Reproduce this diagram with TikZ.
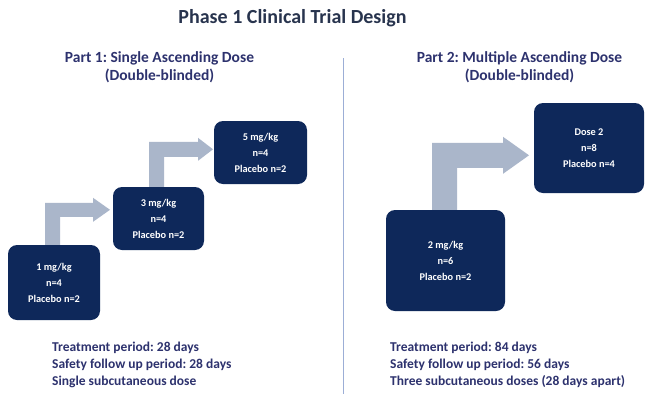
\documentclass[tikz,border=0pt]{standalone}
\usepackage{fontspec}
\setmainfont{Carlito}
\frenchspacing
\definecolor{navy}{HTML}{0E285A}
\definecolor{arrowc}{HTML}{AAB6CA}
\definecolor{titlec}{HTML}{28344E}
\definecolor{headc}{HTML}{2D326E}
\definecolor{linec}{HTML}{9CAED6}
\tikzset{
  dosebox/.style={fill=navy, rounded corners=9pt, inner sep=0pt, align=center,
    text=white, font=\fontsize{10.3}{16}\selectfont\bfseries},
  blockarrow/.style={fill=arrowc},
  header/.style={text=headc, align=center, inner sep=0pt,
    font=\fontsize{15.5}{18.5}\selectfont\bfseries},
  notes/.style={text=headc, align=left, anchor=west, inner sep=0pt,
    font=\fontsize{13.5}{17}\selectfont\bfseries},
}
\begin{document}
\begin{tikzpicture}[x=1pt,y=-1pt]
\useasboundingbox (0,0) rectangle (646,394);
\fill[white] (0,0) rectangle (646,394);

\node[text=titlec, inner sep=0pt, anchor=base, font=\fontsize{20}{24}\selectfont\bfseries]
  (title) at (292.5,23) {Phase 1 Clinical Trial Design};

\node[header] (h1) at (159.5,67) {Part 1: Single Ascending Dose\\(Double-blinded)};
\node[header] (h2) at (519.5,67) {Part 2: Multiple Ascending Dose\\(Double-blinded)};

\coordinate (ltop) at (343,58);
\coordinate (lbot) at (343,394);
\draw[linec, line width=1pt] (ltop) -- (lbot);

\node[dosebox, minimum width=92pt, minimum height=75pt] (b1) at (54,282.5) {1 mg/kg\\n=4\\Placebo n=2};
\node[dosebox, minimum width=91pt, minimum height=63pt] (b2) at (158.5,218.5) {3 mg/kg\\n=4\\Placebo n=2};
\node[dosebox, minimum width=93pt, minimum height=63pt] (b3) at (260.5,152.5) {5 mg/kg\\n=4\\Placebo n=2};
\node[dosebox, minimum width=119pt, minimum height=101pt] (b4) at (445.5,260.5) {2 mg/kg\\n=6\\Placebo n=2};
\node[dosebox, minimum width=110pt, minimum height=90pt] (b5) at (589,148) {Dose 2\\n=8\\Placebo n=4};

\fill[blockarrow] (b1.north) ++(-9,0) -- ++(0,-42) -- ++(48,0) -- ++(0,-5) -- ++(17,12)
  -- ++(-17,12) -- ++(0,-5) -- ++(-33,0) -- ++(0,28) -- cycle;
\fill[blockarrow] (b2.north) ++(-9.5,0) -- ++(0,-45) -- ++(49,0) -- ++(0,-4) -- ++(15,11.5)
  -- ++(-15,11.5) -- ++(0,-4) -- ++(-34,0) -- ++(0,30) -- cycle;
\fill[blockarrow] (b4.north) ++(-13.5,0) -- ++(0,-67) -- ++(71,0) -- ++(0,-6) -- ++(26,18.5)
  -- ++(-26,18.5) -- ++(0,-6) -- ++(-46,0) -- ++(0,42) -- cycle;

\node[notes] (n1) at (52,364.5) {Treatment period: 28 days\\Safety follow up period: 28 days\\Single subcutaneous dose};
\node[notes] (n2) at (390,364.5) {Treatment period: 84 days\\Safety follow up period: 56 days\\Three subcutaneous doses (28 days apart)};
\end{tikzpicture}
\end{document}
